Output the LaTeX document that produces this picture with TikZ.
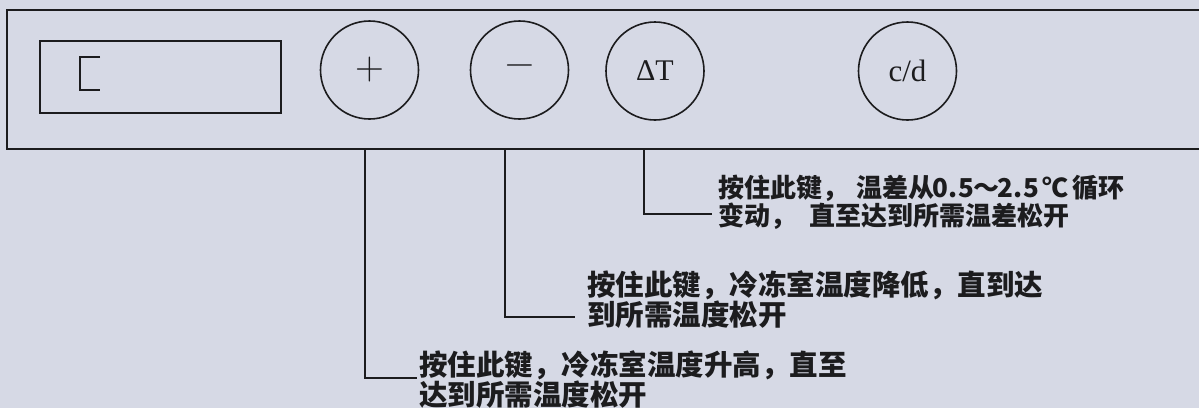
\documentclass[tikz,border=0pt]{standalone}
\usepackage{fontspec}
\newfontfamily\cjk{Noto Sans CJK SC}
\newfontfamily\tms{Liberation Serif}
\definecolor{bg}{RGB}{214,217,229}
\definecolor{ink}{RGB}{28,28,30}
\newcommand{\hw}[1]{\makebox[0.5em]{#1}}
\tikzset{
  panel/.style={draw=ink, line width=2pt},
  btn/.style={circle, draw=ink, line width=1.6pt, minimum size=98pt, inner sep=0pt, text=ink, font=\tms\fontsize{30}{30}\selectfont},
  disp/.style={rectangle, draw=ink, line width=1.8pt, minimum width=241pt, minimum height=72pt, inner sep=0pt},
  lead/.style={draw=ink, line width=1.6pt},
  notesmall/.style={anchor=west, align=left, inner sep=0pt, text=ink, font=\cjk\bfseries\fontsize{26}{28}\selectfont},
  notebig/.style={anchor=west, align=left, inner sep=0pt, text=ink, font=\cjk\bfseries\fontsize{28.5}{29}\selectfont}
}
\begin{document}
\begin{tikzpicture}[x=1pt,y=-1pt]
\fill[bg] (0,0) rectangle (1199,408);
\useasboundingbox (0,0) rectangle (1199,408);
% panel
\draw[panel] (1199,10) -- (7,10) -- (7,149) -- (1199,149);
% display
\node[disp] (display) at (160.5,77) {};
\draw[ink, line width=2.4pt] (100,57) -- (80,57) -- (80,90) -- (100,90);
% buttons
\node[btn, font=\fontsize{40}{40}\selectfont] (plus) at (369.5,70) {+};
\node[btn, font=\fontsize{40}{40}\selectfont] (minus) at (519.5,70) {\raisebox{-3pt}{\char"2212}};
\node[btn] (dT) at (655,71) {ΔT};
\node[btn, font=\tms\fontsize{31}{31}\selectfont] (cd) at (907.5,71) {c/d};
% leader coordinates
\coordinate (pA) at (365,149);
\coordinate (pB) at (365,378);
\coordinate (mA) at (505,149);
\coordinate (mB) at (505,317);
\coordinate (tA) at (644,149);
\coordinate (tB) at (644,214);
% notes
\node[notesmall] (tnote) at (718,202) {按住此键，\hspace{0.3em}温差从\hw{0}\hw{.}\hw{5}～\hw{2}\hw{.}\hw{5}\,℃\,循环\\变动，\hspace{0.5em}直至达到所需温差松开};
\node[notebig] (mnote) at (587,300) {按住此键，冷冻室温度降低，直到达\\到所需温度松开};
\node[notebig] (pnote) at (419,380) {按住此键，冷冻室温度升高，直至\\达到所需温度松开};
% leaders
\draw[lead] (tA) -- (tB) -- ([xshift=-6pt]tnote.west |- tB);
\draw[lead] (mA) -- (mB) -- ([xshift=-12pt]mnote.west |- mB);
\draw[lead] (pA) -- (pB) -- ([xshift=-2pt]pnote.west |- pB);
\end{tikzpicture}
\end{document}
